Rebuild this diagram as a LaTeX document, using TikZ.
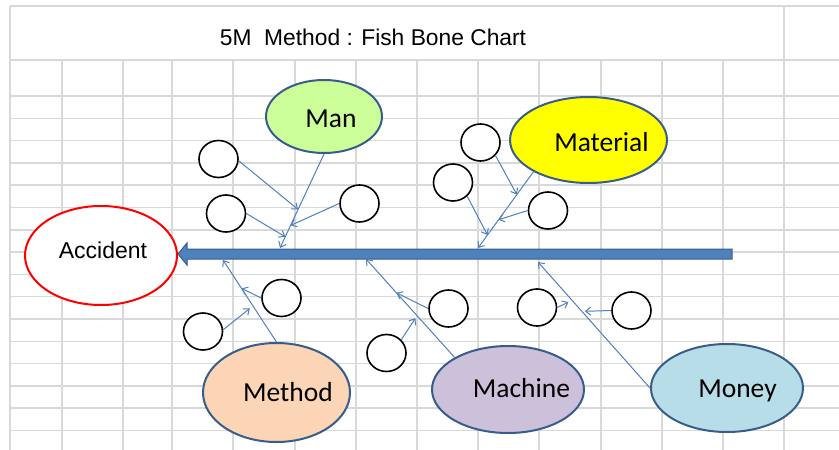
\documentclass[tikz,border=0pt]{standalone}
\usepackage{fontspec}
\setmainfont{Liberation Sans}
\newfontfamily\calib{Carlito}
\usetikzlibrary{shapes.geometric,arrows.meta,calc}
\definecolor{gridc}{HTML}{D9D9D9}
\definecolor{bord}{HTML}{385D8A}
\definecolor{lineb}{HTML}{4F81BD}
\definecolor{manc}{HTML}{CCFF99}
\definecolor{matc}{HTML}{FFFF00}
\definecolor{methc}{HTML}{FBD5B5}
\definecolor{machc}{HTML}{CCC0DA}
\definecolor{monc}{HTML}{B7DEE8}
\begin{document}
\begin{tikzpicture}[x=1pt,y=-1pt,
  gridline/.style={draw=gridc,line width=1.5pt},
  bigell/.style={ellipse,draw=bord,line width=2pt,inner sep=0pt},
  smallc/.style={ellipse,draw=black,fill=white,line width=1.6pt,minimum width=39pt,minimum height=37pt,inner sep=0pt},
  lab/.style={font=\calib\fontsize{27.5}{30}\selectfont,anchor=base,inner sep=0pt},
  conn/.style={draw=lineb,line width=1pt,-{Straight Barb[length=5pt,width=8pt]}},
]
\useasboundingbox (0,0) rectangle (839,450);
\fill[white] (0,0) rectangle (839,450);
% grid
\draw[gridline] (10,6) -- (839,6);
\foreach \y in {60,96} \draw[gridline] (10,\y) -- (839,\y);
\foreach \i in {1,...,15} \draw[gridline] (10,{96+22.3*\i}) -- (839,{96+22.3*\i});
\draw[gridline] (10,6) -- (10,450);
\draw[gridline] (784,6) -- (784,450);
\foreach \x in {62,123,172,233,295,356,417,478,539,601,662,723} \draw[gridline] (\x,60) -- (\x,450);
% title
\node[font=\fontsize{22.8}{26}\selectfont,anchor=base,inner sep=0pt] (title) at (373,45) {5M\ \ Method : Fish Bone Chart};
% spine
\filldraw[fill=lineb,draw=bord,line width=1pt] (178,254) -- (187,243) -- (187,249) -- (732,249) -- (732,259) -- (187,259) -- (187,265) -- cycle;
\coordinate (manE) at (280,248);
\coordinate (matE) at (478,248);
\coordinate (methE) at (223,260);
\coordinate (machE) at (366,259);
\coordinate (monE) at (538,262);
% big ellipses
\node[bigell,fill=manc,minimum width=116pt,minimum height=73pt] (man) at (324,116.5) {};
\node[bigell,fill=matc,minimum width=157pt,minimum height=86pt] (mat) at (588.5,140) {};
\node[ellipse,draw=red,line width=2pt,fill=white,inner sep=0pt,minimum width=152pt,minimum height=99pt] (acc) at (101,255.5) {};
\node[bigell,fill=methc,minimum width=147pt,minimum height=99pt] (meth) at (276.5,392.5) {};
\node[bigell,fill=machc,minimum width=152pt,minimum height=87pt] (mach) at (508,389.5) {};
\node[bigell,fill=monc,minimum width=152pt,minimum height=88pt] (mon) at (727,388) {};
% labels
\node[lab] (manT) at (331,127) {Man};
\node[lab] (matT) at (601.5,151) {Material};
\node[font=\fontsize{23}{26}\selectfont,anchor=base,inner sep=0pt] (accT) at (103,258) {Accident};
\node[lab] (methT) at (288,401.7) {Method};
\node[lab] (machT) at (521.5,397.3) {Machine};
\node[lab] (monT) at (737.5,397.3) {Money};
% small circles
\node[smallc] (c1) at (218.5,159) {};
\node[smallc] (c2) at (226,213.5) {};
\node[smallc] (c3) at (359.5,203.5) {};
\node[smallc] (c4) at (480.5,142.5) {};
\node[smallc] (c5) at (453,182.5) {};
\node[smallc] (c6) at (548,210.5) {};
\node[smallc] (c7) at (281.5,298) {};
\node[smallc] (c8) at (203,331.5) {};
\node[smallc] (c9) at (386.5,353) {};
\node[smallc] (c10) at (448.5,308.5) {};
\node[smallc] (c11) at (537,307.5) {};
\node[smallc] (c12) at (631.5,310.5) {};
% main branches
\draw[conn] (man.south) -- (manE);
\draw[conn] (mat.210) -- (matE);
\draw[conn] (meth.north) -- (methE);
\draw[conn] (mach.149) -- (machE);
\draw[conn] (mon.west) -- (monE);
% sub branches
\draw[conn] (c1.-5) -- ($(man.south)!0.59!(manE)$);
\draw[conn] (c3.west) -- ($(man.south)!0.76!(manE)$);
\draw[conn] (c2.east) -- ($(man.south)!0.88!(manE)$);
\draw[conn] (c4.-41) -- ($(mat.210)!0.30!(matE)$);
\draw[conn] (c6.west) -- ($(mat.210)!0.63!(matE)$);
\draw[conn] (c5.-44) -- ($(mat.210)!0.83!(matE)$);
\draw[conn] (c7.west) -- ($(meth.north)!0.655!(methE)$);
\draw[conn,shorten >=4pt] (c8.5) -- ($(meth.north)!0.44!(methE)$);
\draw[conn] (c10.west) -- ($(mach.149)!0.657!(machE)$);
\draw[conn,shorten >=3pt] (c9.42) -- ($(mach.149)!0.424!(machE)$);
\draw[conn,shorten >=4pt] (c11.east) -- ($(mon.west)!0.696!(monE)$);
\draw[conn,shorten >=3pt] (c12.west) -- ($(mon.west)!0.608!(monE)$);
\end{tikzpicture}
\end{document}
